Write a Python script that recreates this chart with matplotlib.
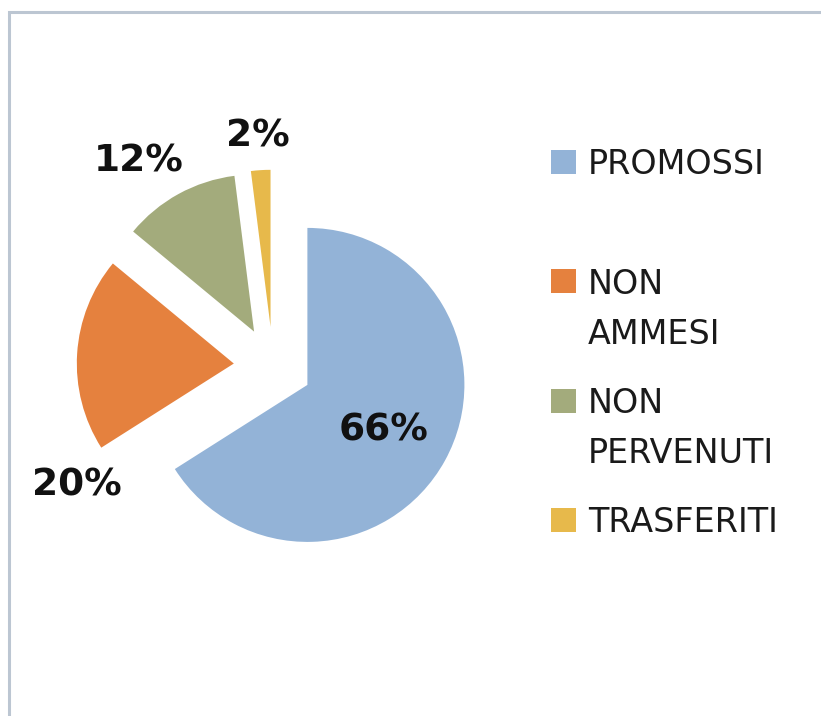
import numpy as np
import matplotlib
matplotlib.use('Agg')
import matplotlib.pyplot as plt
from matplotlib.patches import Rectangle

categories = ['PROMOSSI', 'NON AMMESI', 'NON PERVENUTI', 'TRASFERITI']
values = [66, 20, 12, 2]
colors = ['#93b3d7', '#e5813e', '#a3ab7c', '#e7b94b']

W, H = 821, 716
R = 157.0                 # pie radius in pixels
cx, cy = 273.0, 366.0     # pie centre in pixels (from top-left)

plt.rcParams['font.family'] = ['DejaVu Sans']

fig = plt.figure(figsize=(W / 100, H / 100), dpi=100)
fig.patch.set_facecolor('white')

def fx(x):
    return x / W

def fy(y):
    return 1 - y / H

# chart area border (only top and left edges visible)
fig.patches.append(Rectangle((fx(9), fy(H + 20)), 2, fy(12) - fy(H + 20),
                             transform=fig.transFigure, fill=False,
                             edgecolor='#bcc6d2', lw=2.2))

ax = fig.add_axes([0, 0, 1, 1])
wedges, _ = ax.pie(values, colors=colors, startangle=90, counterclock=False,
                   explode=[0.25] * len(values), radius=1,
                   wedgeprops=dict(linewidth=0))
ax.set_xlim(-cx / R, (W - cx) / R)
ax.set_ylim(-(H - cy) / R, cy / R)
ax.set_aspect('auto')
ax.axis('off')

# percentage labels
label_shift = [0, 34, 4, 0]
label_dist = [0.80, 1.45, 1.58, 1.49]
for w, v, s, d in zip(wedges, values, label_shift, label_dist):
    a = np.deg2rad((w.theta1 + w.theta2) / 2 + s)
    ax.text(d * np.cos(a), d * np.sin(a) - 14 / R, f'{v}%', ha='center',
            va='baseline', fontsize=27, fontweight='bold', color='#111111')

# legend drawn by hand to follow the wrapped layout of the original
for i, (cat, col) in enumerate(zip(categories, colors)):
    yc = 162 + i * 119.3
    fig.patches.append(Rectangle((fx(551), fy(yc + 12)), 25 / W, 24 / H,
                                 transform=fig.transFigure, facecolor=col,
                                 edgecolor='none'))
    for j, line in enumerate(cat.split(' ')):
        fig.text(fx(588), fy(yc + 12.5 + j * 50), line, ha='left',
                 va='baseline', fontsize=24, color='#1a1a1a')

fig.savefig('out.png', dpi=100, facecolor='white')
